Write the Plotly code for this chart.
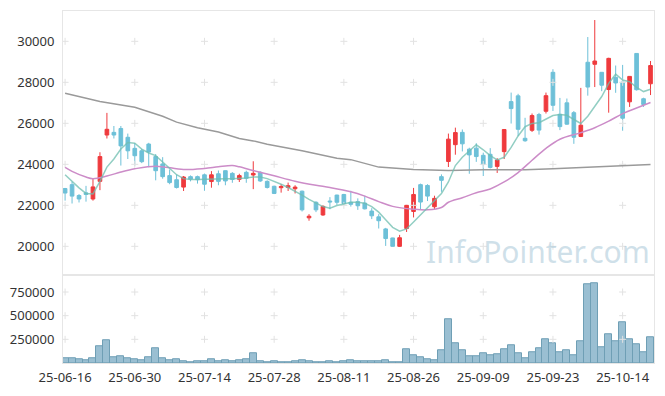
import plotly.graph_objects as go

dates = ["25-06-16","25-06-17","25-06-18","25-06-19","25-06-20","25-06-23","25-06-24","25-06-25","25-06-26","25-06-27","25-06-30",
         "25-07-01","25-07-02","25-07-03","25-07-04","25-07-07","25-07-08","25-07-09","25-07-10","25-07-11","25-07-14","25-07-15",
         "25-07-16","25-07-17","25-07-18","25-07-21","25-07-22","25-07-23","25-07-24","25-07-25","25-07-28","25-07-29","25-07-30",
         "25-07-31","25-08-01","25-08-04","25-08-05","25-08-06","25-08-07","25-08-08","25-08-11","25-08-12","25-08-13","25-08-14",
         "25-08-18","25-08-19","25-08-20","25-08-21","25-08-22","25-08-25","25-08-26","25-08-27","25-08-28","25-08-29","25-09-01",
         "25-09-02","25-09-03","25-09-04","25-09-05","25-09-08","25-09-09","25-09-10","25-09-11","25-09-12","25-09-15","25-09-16",
         "25-09-17","25-09-18","25-09-19","25-09-22","25-09-23","25-09-24","25-09-25","25-09-26","25-09-29","25-09-30","25-10-01",
         "25-10-02","25-10-10","25-10-13","25-10-14","25-10-15","25-10-16","25-10-17","25-10-20"]

opens = [22820,23010,22480,22610,22310,23170,25430,25560,25750,25320,24780,24660,24990,24380,24020,23450,23250,22890,23400,23400,
         23490,23160,23540,23690,23560,23270,23610,23480,23610,23170,22930,22860,22870,22810,22690,21390,22150,21530,22210,22500,
         22530,22150,22180,22110,21720,21440,20850,20410,20000,20870,21700,23010,22970,21930,23400,24140,24960,25560,24740,24790,
         24440,24490,23900,24620,27060,27340,25270,25660,26430,26590,28490,26440,27000,26520,25360,28980,28880,28490,27650,28240,
         28010,27050,29410,27200,27930]
highs = [22850,23150,22550,22950,23300,24590,26510,25870,25870,25500,25030,24750,25050,24500,24350,23750,23500,23430,23460,23450,
         23550,23670,23700,23700,23620,23540,23690,24150,23660,23220,22960,23030,23110,22980,22720,21570,22200,22000,22400,22520,
         22560,22710,22340,22470,21860,21570,20900,20420,20560,22020,22850,23060,23030,22470,23510,25500,25790,25700,24810,25030,
         24570,24790,24300,25720,27500,27440,26270,26480,26510,27500,28640,27240,27210,26600,27730,30210,31040,28500,29200,28820,
         28850,28300,29410,27250,29040]
lows = [22230,22090,22140,22180,22230,22740,25260,25260,23940,24260,23940,24060,23860,23220,23300,23030,22820,22700,23170,23060,
        22710,22860,22980,22980,23100,23140,23100,22790,23140,22820,22550,22620,22700,22580,21700,21250,21670,21490,21810,22020,
        22050,21940,21780,21800,21330,20870,20020,19990,19970,20700,21410,21810,22210,21810,22660,23870,24470,24630,23540,24120,
        23430,23800,23580,24260,25990,25380,25100,25580,25450,26480,26600,25670,25930,25000,25330,27350,27770,27570,26520,27490,
        25640,26800,27600,26800,27380]
closes = [22600,22450,22310,22530,22900,24380,25710,25430,24900,24660,24420,24130,24600,23690,23400,23110,22870,23380,23280,23250,
          23030,23490,23170,23190,23260,23450,23320,23560,23190,22870,22580,22920,22960,22890,21780,21470,21780,21950,22170,22150,
          22090,22050,21980,21830,21490,21250,20380,20000,20420,22000,22530,22160,22450,22340,23220,25230,25550,25000,24460,24380,
          23990,23850,24210,25700,26720,25710,25150,26380,25670,27350,26880,25840,25960,25320,25910,27770,29040,27860,29170,27970,
          26250,28290,27640,26920,28820]
volumes = [52000,52000,38000,28000,52000,177000,240000,62000,73000,52000,42000,31000,62000,156000,52000,31000,38000,21000,7000,17000,
           17000,38000,21000,28000,21000,31000,42000,101000,17000,7000,17000,7000,7000,17000,28000,21000,7000,7000,17000,7000,
           17000,28000,17000,17000,17000,17000,28000,7000,7000,142000,80000,62000,38000,28000,132000,465000,205000,132000,73000,73000,
           101000,80000,90000,142000,184000,101000,52000,111000,156000,247000,205000,111000,132000,80000,226000,830000,840000,167000,299000,226000,
           434000,247000,194000,111000,267000]

ma5 = [23495,23170,22854,22581,22560,23170,23865,24264,24745,25067,25033,24745,24553,24424,24100,23783,23495,23303,23255,23255,
       23270,23300,23303,23303,23303,23303,23330,23380,23383,23303,23172,23030,22870,22692,22500,22293,22100,21940,21860,21990,
       22070,22148,22148,22100,21940,21668,21300,20930,20740,20850,21187,21540,21893,22260,22580,23140,23942,24345,24664,24953,
       24711,24423,24216,24345,24825,25384,25836,25995,26027,26220,26380,26428,26394,26187,25995,26348,26860,27308,27950,28398,
       28110,28030,27759,27550,27663]

ma20_dates = ["25-06-16","25-06-17","25-06-19","25-06-20","25-06-24","25-06-26","25-06-30","25-07-03","25-07-09","25-07-14",
              "25-07-16","25-07-18","25-07-21","25-07-23","25-07-28","25-07-31","25-08-05","25-08-07","25-08-12","25-08-14",
              "25-08-19","25-08-21","25-08-26","25-08-28","25-09-01","25-09-02","25-09-04","25-09-08","25-09-10","25-09-12",
              "25-09-16","25-09-18","25-09-22","25-09-24","25-09-29","25-10-01","25-10-10","25-10-14","25-10-16","25-10-20"]
ma20 = [23850,23660,23380,23303,23430,23625,23783,23912,23750,23800,23880,23940,23880,23700,23440,23180,22980,22870,22663,22450,
        22180,21950,21812,21780,21893,22150,22372,22612,22800,23140,23600,24200,24780,25226,25546,25788,26107,26476,26750,27019]

ma60_dates = ["25-06-16","25-06-23","25-06-30","25-07-01","25-07-04","25-07-08","25-07-11","25-07-16","25-07-21","25-07-23",
              "25-07-25","25-08-01","25-08-08","25-08-12","25-08-19","25-08-26","25-09-02","25-09-09","25-09-17","25-09-23",
              "25-09-30","25-10-14","25-10-20"]
ma60 = [27470,27067,26780,26668,26348,26060,25788,25577,25260,25144,24985,24664,24296,24230,23865,23750,23700,23740,23735,23783,
        23865,23943,23990]

price_ticks = [20000, 22000, 24000, 26000, 28000, 30000]
volume_ticks = [250000, 500000, 750000]
x_ticks = ["25-06-16", "25-06-30", "25-07-14", "25-07-28", "25-08-11", "25-08-26", "25-09-09", "25-09-23", "25-10-14"]

RED = "#ef3a3d"
BLUE = "#6dc0d8"
GRID = "#e2e2e2"
FRAME = "#e6e6e6"

fig = go.Figure()

# grid crosses
fig.add_trace(go.Scatter(
    x=[d for d in x_ticks for _ in price_ticks], y=[v for _ in x_ticks for v in price_ticks],
    mode="markers", marker=dict(symbol="cross-thin", size=5, line=dict(width=1, color=GRID)),
    xaxis="x", yaxis="y", hoverinfo="skip", showlegend=False))
fig.add_trace(go.Scatter(
    x=[d for d in x_ticks for _ in volume_ticks], y=[v for _ in x_ticks for v in volume_ticks],
    mode="markers", marker=dict(symbol="cross-thin", size=5, line=dict(width=1, color=GRID)),
    xaxis="x2", yaxis="y2", hoverinfo="skip", showlegend=False))

fig.add_trace(go.Scatter(x=ma60_dates, y=ma60, mode="lines", line=dict(color="#9a9a9a", width=1.5),
                         xaxis="x", yaxis="y", showlegend=False))
fig.add_trace(go.Scatter(x=ma20_dates, y=ma20, mode="lines", line=dict(color="#cc8cc8", width=1.5, shape="spline"),
                         xaxis="x", yaxis="y", showlegend=False))

fig.add_trace(go.Candlestick(
    x=dates, open=opens, high=highs, low=lows, close=closes,
    increasing=dict(line=dict(color=RED, width=1), fillcolor=RED),
    decreasing=dict(line=dict(color=BLUE, width=1), fillcolor=BLUE),
    xaxis="x", yaxis="y", showlegend=False))

fig.add_trace(go.Scatter(x=dates, y=ma5, mode="lines", line=dict(color="rgba(110,190,175,0.75)", width=1.5),
                         xaxis="x", yaxis="y", showlegend=False))

fig.add_trace(go.Bar(x=dates, y=volumes, marker=dict(color="rgba(120,170,195,0.75)", line=dict(color="#6f9fb5", width=1)),
                     xaxis="x2", yaxis="y2", showlegend=False))

tickfont = dict(family="Noto Sans", size=13, color="#333333")
xr = [-0.3, 84.5]
fig.update_layout(
    width=665, height=396,
    margin=dict(l=62, r=10, t=10, b=29),
    paper_bgcolor="white", plot_bgcolor="white",
    bargap=0, boxgap=0.25,
    hovermode=False,
    xaxis=dict(type="category", categoryorder="array", categoryarray=dates, range=xr, domain=[0, 1],
               anchor="y", showticklabels=False, showgrid=False, zeroline=False, ticks="",
               showline=True, mirror=True, linecolor=FRAME, rangeslider=dict(visible=False)),
    yaxis=dict(domain=[0.2493, 1], range=[18590, 31480], tickvals=price_ticks, ticktext=[str(v) for v in price_ticks],
               showgrid=False, zeroline=False, showline=True, mirror=True, linecolor=FRAME,
               tickfont=tickfont, ticks="outside", ticklen=5, tickcolor="rgba(0,0,0,0)"),
    xaxis2=dict(type="category", categoryorder="array", categoryarray=dates, range=xr, domain=[0, 1],
                anchor="y2", tickvals=x_ticks, ticktext=x_ticks, showgrid=False, zeroline=False,
                showline=True, mirror=True, linecolor=FRAME, tickfont=tickfont, tickangle=0,
                ticks="outside", ticklen=2, tickcolor="rgba(0,0,0,0)"),
    yaxis2=dict(domain=[0, 0.2493], range=[0, 927000], tickvals=volume_ticks, ticktext=[str(v) for v in volume_ticks],
                showgrid=False, zeroline=False, showline=True, mirror=True, linecolor=FRAME,
                tickfont=tickfont, ticks="outside", ticklen=5, tickcolor="rgba(0,0,0,0)"),
    annotations=[dict(text="InfoPointer.com", xref="paper", yref="paper", x=0.804, y=0.318,
                      xanchor="center", yanchor="middle", showarrow=False,
                      font=dict(family="Noto Sans", size=30, color="rgba(175,204,219,0.6)"))],
)

fig.write_html("out.html", config={"displayModeBar": False},
               post_script="document.body.style.margin='0';document.body.style.padding='0';")
